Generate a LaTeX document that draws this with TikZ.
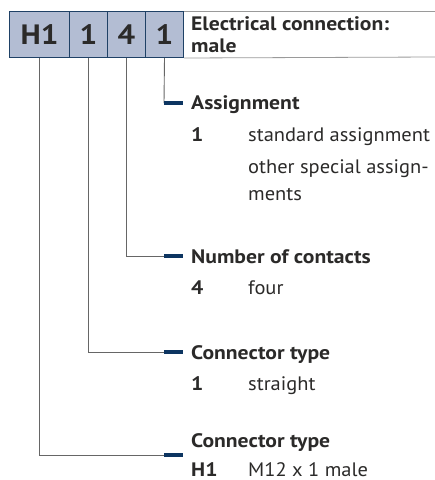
\documentclass[tikz,border=0pt]{standalone}
\usepackage{fontspec}
\setmainfont{PT Sans}[FakeStretch=1.05, BoldFeatures={FakeStretch=1.11}]
\definecolor{boxfill}{HTML}{B3BDD3}
\definecolor{boxline}{HTML}{1F4166}
\definecolor{txt}{HTML}{2B2A29}
\definecolor{conn}{HTML}{666666}
\definecolor{mark}{HTML}{0D3561}
\definecolor{rule}{HTML}{9A9A9A}
\tikzset{
  codebox/.style={draw=boxline, line width=1pt, fill=boxfill, minimum height=46pt, inner sep=0pt, text=txt, font=\fontsize{28}{30}\selectfont\bfseries, anchor=north west},
  head/.style={anchor=base west, inner sep=0pt, text=txt, font=\fontsize{19.5}{22}\selectfont\bfseries},
  body/.style={anchor=base west, inner sep=0pt, text=txt, font=\fontsize{19.5}{22}\selectfont},
  bodyb/.style={anchor=base west, inner sep=0pt, text=txt, font=\fontsize{19.5}{22}\selectfont\bfseries},
  connline/.style={draw=conn, line width=0.9pt},
  markline/.style={draw=mark, line width=4pt},
  ruleline/.style={draw=rule, line width=0.8pt}
}
\begin{document}
\begin{tikzpicture}[x=1pt,y=-1pt]
\useasboundingbox (0,0) rectangle (435,480);
% code boxes
\node[codebox, minimum width=60pt] (b1) at (9,11) {H1};
\node[codebox, minimum width=38pt] (b2) at (69,11) {1};
\node[codebox, minimum width=38pt] (b3) at (107,11) {4};
\node[codebox, minimum width=38pt] (b4) at (145,11) {1};
% header rules
\coordinate (rt) at (435,11);
\coordinate (rb) at (435,57);
\draw[ruleline] (b4.north east) -- (rt);
\draw[ruleline] (b4.south east) -- (rb);
\node[head] (title1) at (191,30.7) {Electrical connection:};
\node[head] (title2) at (191,52.7) {male};
% bend points
\coordinate (t4) at (164,103);
\coordinate (t3) at (164,256);
\coordinate (t2) at (164,352);
\coordinate (t1) at (164,455);
\draw[connline] (b4.south) -- (t4);
\draw[connline] (b3.south) |- (t3);
\draw[connline] (b2.south) |- (t2);
\draw[connline] (b1.south) |- (t1);
\draw[markline] (t4) -- ++(19,0);
\draw[markline] (t3) -- ++(19,0);
\draw[markline] (t2) -- ++(19,0);
\draw[markline] (t1) -- ++(19,0);
% Assignment
\node[head] (h4) at (191,109.5) {Assignment};
\node[bodyb] (k4a) at (191,141) {1};
\node[body] (v4a) at (248,141) {standard assignment};
\node[body] (v4b) at (248,173) {other special assign-};
\node[body] (v4c) at (248,200) {ments};
% Number of contacts
\node[head] (h3) at (191,263) {Number of contacts};
\node[bodyb] (k3) at (191,294) {4};
\node[body] (v3) at (248,294) {four};
% Connector type
\node[head] (h2) at (191,359) {Connector type};
\node[bodyb] (k2) at (191,390) {1};
\node[body] (v2) at (248,390) {straight};
% Connector type
\node[head] (h1) at (191,447) {Connector type};
\node[bodyb] (k1) at (191,476) {H1};
\node[body] (v1) at (248,476) {M12 x 1 male};
\end{tikzpicture}
\end{document}
